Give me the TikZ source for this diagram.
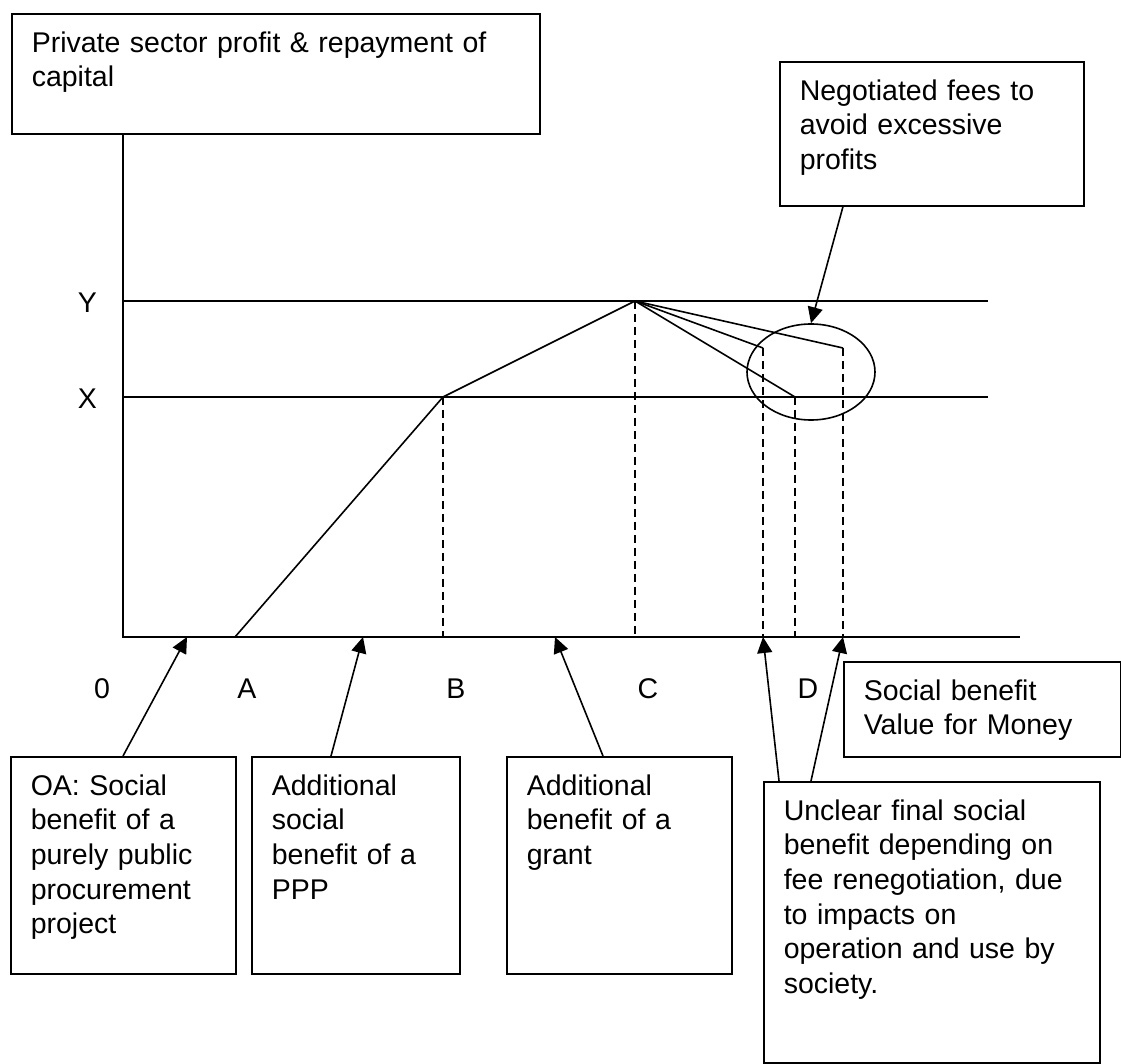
\documentclass[tikz,border=0pt]{standalone}
\usepackage{fontspec}
\setmainfont{Liberation Sans}
\usetikzlibrary{arrows.meta,shapes.geometric}
\begin{document}
\begin{tikzpicture}[>={Triangle[length=8pt,width=7.5pt]},x=0.5pt,y=-0.5pt,line width=0.8pt,
	font=\fontsize{14.25}{17.3}\selectfont,
	txtbox/.style 2 args={draw,anchor=north west,align=left,inner xsep=10pt,inner ysep=0pt,text height=19.25pt,text width=#1,text depth=#2},
	guide/.style={dash pattern=on 4pt off 2.5pt}]
		\useasboundingbox (0,0) rectangle (1121,1064);
		% boxes
		\node[txtbox={244pt}{40.75pt}] (ybox) at (11,13) {Private sector profit \& repayment of\\capital};
		\node[txtbox={132pt}{52.75pt}] (nego) at (779,61) {Negotiated fees to\\avoid excessive\\profits};
		\node[txtbox={118.5pt}{28.25pt}] (vfm) at (843,661) {Social benefit\\Value for Money};
		\node[txtbox={92.5pt}{89.25pt}] (oa) at (10,756) {OA: Social\\benefit of a\\purely public\\procurement\\project};
		\node[txtbox={84pt}{89.25pt}] (ppp) at (251,756) {Additional\\social\\benefit of a\\PPP};
		\node[txtbox={92.5pt}{89.25pt}] (grant) at (506,756) {Additional\\benefit of a\\grant};
		\node[txtbox={148pt}{121.25pt}] (unclear) at (763,781) {Unclear final social\\benefit depending on\\fee renegotiation, due\\to impacts on\\operation and use by\\society.};
		% axes and levels
		\coordinate (orig) at (123,637);
		\coordinate (xend) at (1020,637);
		\draw (orig |- ybox.south) -- (orig) -- (xend);
		\draw (123,301) -- (988,301);
		\draw (123,397) -- (988,397);
		\node[anchor=base] (labY) at (87.5,313) {Y};
		\node[anchor=base] (labX) at (87.5,409) {X};
		\foreach \lab/\px in {0/102,A/247,B/456,C/648,D/808}
		\node[anchor=base] (lab\lab) at (\px,698) {\lab};
		% benefit curve
		\coordinate (A) at (235,637);
		\coordinate (B) at (443,397);
		\coordinate (C) at (635,301);
		\coordinate (D1) at (763,348);
		\coordinate (D2) at (795,397);
		\coordinate (D3) at (843,348);
		\draw (A) -- (B) -- (C);
		\draw (C) -- (D1);
		\draw (C) -- (D2);
		\draw (C) -- (D3);
		\foreach \p in {B,C,D1,D2,D3}
		\draw[guide] (\p) -- (\p |- orig);
		\node[draw,ellipse,minimum width=64pt,minimum height=48pt,inner sep=0pt] (fees) at (811,372) {};
		% arrows
		\coordinate (t1) at (187,637);
		\coordinate (t2) at (363,637);
		\coordinate (t3) at (555,637);
		\draw[->] ([xshift=32pt]nego.south west) -- (fees.north);
		\draw[->] ([xshift=56.5pt]oa.north west) -- (t1);
		\draw[->] ([xshift=40pt]ppp.north west) -- (t2);
		\draw[->] ([xshift=48.5pt]grant.north west) -- (t3);
		\draw[->] ([xshift=8pt]unclear.north west) -- (D1 |- orig);
		\draw[->] ([xshift=24pt]unclear.north west) -- (D3 |- orig);
\end{tikzpicture}
\end{document}
